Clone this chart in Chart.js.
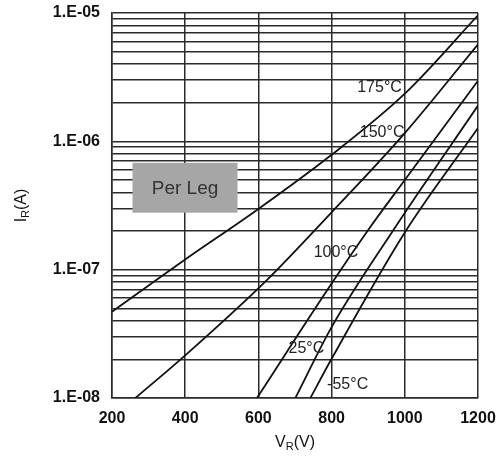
<!DOCTYPE html>
<html lang="en">
<head>
<meta charset="UTF-8">
<title>Reverse leakage current vs reverse voltage</title>
<script src="https://cdn.jsdelivr.net/npm/chart.js"></script>
<style>
  html, body { margin: 0; padding: 0; background: #fff; }
</style>
</head>
<body>
<canvas id="leakChart" width="501" height="459"></canvas>
<script>
// reverse voltage (V) and leakage current (A)
const v175 = [200, 400, 600, 800, 1000, 1200];
const i175 = [4.7e-8, 1.2e-7, 2.97e-7, 7.85e-7, 2.35e-6, 9.6e-6];
const v150 = [264, 400, 623, 800, 1000, 1200];
const i150 = [1e-8, 2.15e-8, 8.3e-8, 2.8e-7, 1.16e-6, 5.7e-6];
const v100 = [596, 800, 900, 1000, 1200];
const i100 = [1e-8, 7.8e-8, 2.04e-7, 5.0e-7, 2.97e-6];
const v25 = [701, 800, 969, 1200];
const i25 = [1e-8, 3.57e-8, 2.04e-7, 1.9e-6];
const vM55 = [742, 800, 1000, 1200];
const iM55 = [1e-8, 2.02e-8, 1.95e-7, 1.27e-6];

const tempLabels = ['175°C', '150°C', '100°C', '25°C', '-55°C'];
const xTicks = [200, 400, 600, 800, 1000, 1200];
const decades = [-8, -7, -6, -5];
const minorSteps = [1, 2, 3, 4, 5, 6, 7, 8, 9];

const yTickValues = [];
decades.forEach(function(e) {
  minorSteps.forEach(function(k) {
    if (e === decades[decades.length - 1] && k > 1) return;
    yTickValues.push(k * Math.pow(10, e));
  });
});

function isDecade(v) {
  const l = Math.log10(v);
  return Math.abs(l - Math.round(l)) < 1e-6;
}
function sciLabel(v) {
  const e = Math.round(Math.log10(v));
  return '1.E' + (e < 0 ? '-' : '+') + String(Math.abs(e)).padStart(2, '0');
}
function pts(vs, is) {
  return vs.map(function(v, i) { return { x: v, y: is[i] }; });
}

const FONT = "'Liberation Sans', Arial, sans-serif";
const GRID = '#2b2b2b';

// where the curve names and the "Per Leg" box sit, in data units
const labelAt = [
  { v: 992, i: 2.62e-6 },
  { v: 999, i: 1.17e-6 },
  { v: 873, i: 1.35e-7 },
  { v: 780, i: 2.44e-8 },
  { v: 900, i: 1.27e-8 }
];
const boxAt = { v1: 256, v2: 543, i1: 6.8e-7, i2: 2.78e-7 };

function subText(ctx, main, sub, tail, cx, cy) {
  ctx.font = '16px ' + FONT;
  const w1 = ctx.measureText(main).width;
  const w3 = ctx.measureText(tail).width;
  ctx.font = '11px ' + FONT;
  const w2 = ctx.measureText(sub).width;
  let x = cx - (w1 + w2 + w3) / 2;
  ctx.textAlign = 'left';
  ctx.textBaseline = 'middle';
  ctx.font = '16px ' + FONT;
  ctx.fillText(main, x, cy);
  x += w1;
  ctx.font = '11px ' + FONT;
  ctx.fillText(sub, x, cy + 4);
  x += w2;
  ctx.font = '16px ' + FONT;
  ctx.fillText(tail, x, cy);
}

const notes = {
  id: 'notes',
  afterDatasetsDraw(chart) {
    const ctx = chart.ctx;
    const x = chart.scales.x, y = chart.scales.y;
    const area = chart.chartArea;
    ctx.save();

    // Per Leg box
    const bx1 = x.getPixelForValue(boxAt.v1), bx2 = x.getPixelForValue(boxAt.v2);
    const by1 = y.getPixelForValue(boxAt.i1), by2 = y.getPixelForValue(boxAt.i2);
    ctx.fillStyle = '#a6a6a6';
    ctx.fillRect(bx1, by1, bx2 - bx1, by2 - by1);
    ctx.fillStyle = '#333';
    ctx.font = '19px ' + FONT;
    ctx.textAlign = 'center';
    ctx.textBaseline = 'middle';
    ctx.fillText('Per Leg', (bx1 + bx2) / 2, (by1 + by2) / 2 + 1);

    // curve names
    ctx.fillStyle = '#222';
    ctx.font = '16px ' + FONT;
    ctx.textAlign = 'right';
    tempLabels.forEach(function(t, k) {
      ctx.fillText(t, x.getPixelForValue(labelAt[k].v), y.getPixelForValue(labelAt[k].i));
    });

    // axis titles
    ctx.fillStyle = '#111';
    subText(ctx, 'V', 'R', '(V)', (area.left + area.right) / 2, 443);
    ctx.translate(22, (area.top + area.bottom) / 2);
    ctx.rotate(-Math.PI / 2);
    subText(ctx, 'I', 'R', '(A)', 0, 0);
    ctx.restore();
  }
};

function curve(data) {
  return {
    data: data,
    borderColor: '#111',
    borderWidth: 1.8,
    pointRadius: 0,
    fill: false,
    cubicInterpolationMode: 'monotone'
  };
}

new Chart(document.getElementById('leakChart'), {
  type: 'line',
  data: {
    datasets: [
      curve(pts(v175, i175)),
      curve(pts(v150, i150)),
      curve(pts(v100, i100)),
      curve(pts(v25, i25)),
      curve(pts(vM55, iM55))
    ]
  },
  options: {
    responsive: false,
    animation: false,
    events: [],
    layout: { padding: { top: 13, right: 23, left: 0, bottom: 0 } },
    plugins: { legend: { display: false }, tooltip: { enabled: false } },
    scales: {
      x: {
        type: 'linear',
        min: xTicks[0],
        max: xTicks[xTicks.length - 1],
        afterBuildTicks: function(scale) {
          scale.ticks = xTicks.map(function(v) { return { value: v }; });
        },
        afterFit: function(scale) {
          scale.height = 61;
          scale.paddingLeft = 0;
          scale.paddingRight = 0;
        },
        ticks: {
          color: '#111',
          padding: 11,
          maxRotation: 0,
          autoSkip: false,
          font: { family: FONT, size: 16, weight: 'bold' },
          callback: function(value) { return String(value); }
        },
        grid: { color: GRID, lineWidth: 1.5, drawTicks: false },
        border: { color: GRID, width: 1.5 }
      },
      y: {
        type: 'logarithmic',
        min: 1e-8,
        max: 1e-5,
        afterBuildTicks: function(scale) {
          scale.ticks = yTickValues.map(function(v) { return { value: v }; });
        },
        afterFit: function(scale) {
          scale.width = 112;
          scale.paddingTop = 0;
          scale.paddingBottom = 0;
        },
        ticks: {
          color: '#111',
          padding: 12,
          autoSkip: false,
          font: { family: FONT, size: 16, weight: 'bold' },
          callback: function(value) { return isDecade(value) ? sciLabel(value) : ''; }
        },
        grid: { color: GRID, lineWidth: 1.5, drawTicks: false },
        border: { color: GRID, width: 1.5 }
      }
    }
  },
  plugins: [notes]
});
</script>
</body>
</html>
